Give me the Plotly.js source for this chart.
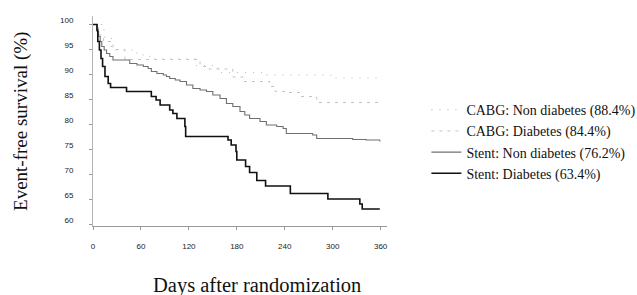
<!DOCTYPE html>
<html>
<head>
<meta charset="utf-8">
<script src="https://cdn.plot.ly/plotly-3.0.1.min.js"></script>
<style>html,body{margin:0;padding:0;background:#fff;}#chart{width:637px;height:295px;}</style>
</head>
<body>
<div id="chart"></div>
<script>
// Kaplan-Meier step data (days, event-free survival %)
const cabgNonDiabDays = [0, 11, 15, 23, 55, 71, 128, 156, 218, 300, 359];
const cabgNonDiabSurv = [100, 98.9, 97.2, 94.9, 93.9, 93.1, 91.8, 90.4, 89.9, 89.3, 89.3];

const cabgDiabDays = [0, 7, 13, 25, 40, 134, 142, 175, 188, 221, 228, 241, 259, 280, 359];
const cabgDiabSurv = [100, 97.9, 96.6, 95.0, 93.0, 91.6, 91.1, 89.5, 88.6, 87.6, 86.6, 86.4, 85.6, 84.4, 84.4];

const stentNonDiabDays = [0, 5, 7, 9, 11, 14, 17, 21, 25, 46, 55, 63, 69, 73, 80, 88, 92, 96, 103, 109, 117, 125, 134, 142, 150, 159, 167, 175, 184, 190, 196, 209, 217, 230, 238, 242, 275, 280, 325, 342, 359];
const stentNonDiabSurv = [100, 98.6, 97.6, 96.6, 95.6, 94.9, 94.2, 93.6, 92.9, 92.2, 91.9, 91.6, 91.2, 90.6, 90.2, 89.9, 89.6, 89.2, 88.9, 88.6, 87.9, 87.2, 86.9, 86.6, 85.9, 85.2, 84.2, 83.6, 82.6, 81.9, 81.2, 80.6, 79.9, 79.6, 79.2, 78.2, 77.9, 77.2, 77.0, 76.9, 76.6];

const stentDiabDays = [0, 5, 6, 8, 10, 12, 15, 19, 22, 42, 73, 79, 84, 96, 100, 105, 115, 116, 169, 173, 179, 180, 191, 196, 205, 216, 247, 294, 334, 337, 359];
const stentDiabSurv = [100, 98.9, 96.6, 94.9, 93.2, 91.6, 89.6, 88.2, 87.4, 86.6, 85.6, 84.9, 83.9, 82.9, 82.2, 81.2, 79.6, 77.6, 76.9, 75.9, 74.6, 72.9, 71.6, 70.4, 68.8, 67.7, 66.2, 65.1, 64.1, 63.1, 63.1];

const seriesNames = ['CABG: Non diabetes (88.4%)', 'CABG: Diabetes (84.4%)', 'Stent: Non diabetes (76.2%)', 'Stent: Diabetes (63.4%)'];
const xTicks = [0, 60, 120, 180, 240, 300, 360];
const yTicks = [60, 65, 70, 75, 80, 85, 90, 95, 100];

const traces = [
  {x: cabgNonDiabDays, y: cabgNonDiabSurv, name: seriesNames[0], legendgroup: 'a',
   line: {shape: 'hv', color: '#bdbdbd', width: 1.2, dash: '1px,7px'}},
  {x: cabgDiabDays, y: cabgDiabSurv, name: seriesNames[1], legendgroup: 'b',
   line: {shape: 'hv', color: '#c4c4c4', width: 1, dash: '3px,5px'}},
  {x: stentNonDiabDays, y: stentNonDiabSurv, name: seriesNames[2], legendgroup: 'c',
   line: {shape: 'hv', color: '#707070', width: 1.1}},
  {x: stentDiabDays, y: stentDiabSurv, name: seriesNames[3], legendgroup: 'd',
   line: {shape: 'hv', color: '#111111', width: 1.6}}
].map(t => Object.assign({type: 'scatter', mode: 'lines', hoverinfo: 'skip'}, t));

const layout = {
  width: 637, height: 295,
  margin: {l: 93, r: 250, t: 16, b: 69, autoexpand: false},
  paper_bgcolor: '#fff', plot_bgcolor: '#fff',
  showlegend: true,
  legend: {x: 1.134, y: 0.628, xanchor: 'left', yanchor: 'top', bgcolor: 'rgba(0,0,0,0)',
           font: {family: 'Liberation Serif, serif', size: 14, color: '#111'},
           tracegroupgap: 7.5, traceorder: 'normal'},
  xaxis: {range: [0, 368], tickvals: xTicks, ticktext: xTicks.map(String),
          showgrid: false, zeroline: false, showline: true, linecolor: '#9a9a9a', linewidth: 1,
          ticks: 'outside', ticklen: 3, tickcolor: '#9a9a9a',
          ticklabelstandoff: 9, automargin: false,
          tickfont: {family: 'Liberation Sans, Arial, sans-serif', size: 8, color: '#222'}},
  yaxis: {range: [59.7, 101.7], tickvals: yTicks, ticktext: yTicks.map(String),
          showgrid: false, zeroline: false, showline: true, linecolor: '#b5b5b5', linewidth: 1,
          ticks: 'outside', ticklen: 3, tickcolor: '#9a9a9a',
          ticklabelstandoff: 14, ticklabelshift: -4, automargin: false,
          tickfont: {family: 'Liberation Sans, Arial, sans-serif', size: 8, color: '#222'}},
  annotations: [
    {text: 'Event-free survival (%)', xref: 'paper', yref: 'paper', x: -0.245, y: 0.5,
     xanchor: 'center', yanchor: 'middle', textangle: -90, showarrow: false,
     font: {family: 'Liberation Serif, serif', size: 19, color: '#111'}},
    {text: 'Days after randomization', xref: 'paper', yref: 'paper', x: 0.558, y: -0.22,
     xanchor: 'center', yanchor: 'top', showarrow: false,
     font: {family: 'Liberation Serif, serif', size: 20.5, color: '#111'}}
  ]
};

Plotly.newPlot('chart', traces, layout, {staticPlot: true, displayModeBar: false});
</script>
</body>
</html>
